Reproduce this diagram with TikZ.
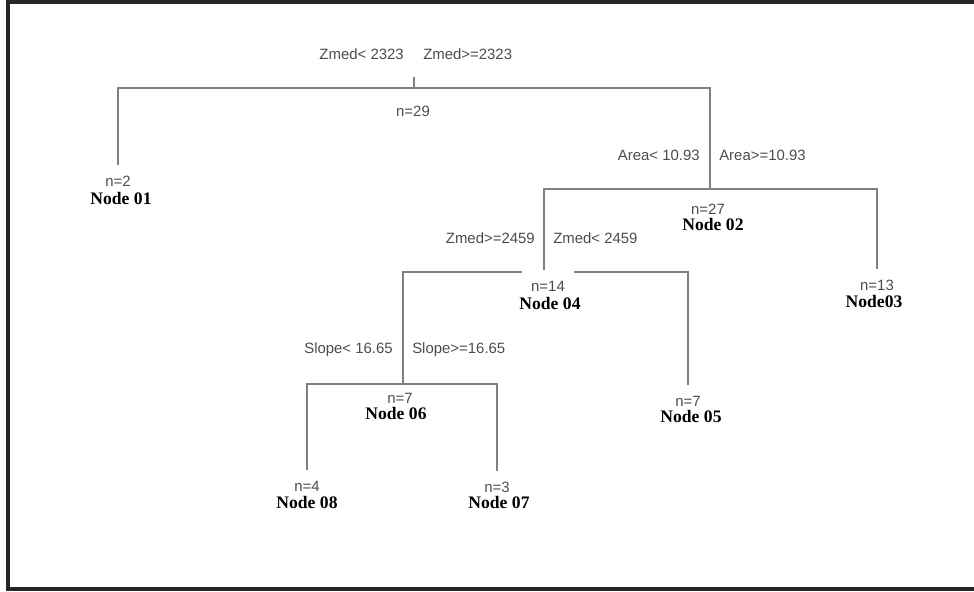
\documentclass[tikz,border=0pt]{standalone}
\usepackage{fontspec}
\setmainfont{Liberation Serif}
\setsansfont{Liberation Sans}
\usetikzlibrary{backgrounds}
\tikzset{
	splitlab/.style={font=\sffamily\fontsize{11.2}{13}\selectfont, text=black!70, inner sep=0pt},
	count/.style={font=\sffamily\fontsize{11.2}{13}\selectfont, text=black!70, inner sep=1pt},
	nodelab/.style={font=\bfseries\fontsize{13.2}{15}\selectfont, inner sep=0pt},
	branch/.style={draw=black!50, line width=1pt},
}
\begin{document}
\begin{tikzpicture}[x=0.75pt,y=-0.75pt]
		\useasboundingbox (0,0) rectangle (974,592);
		% Frame
			\draw [black!85, line width=2.5pt] (974,2) -- (8,2) -- (8,589) -- (974,589);
			
		% Splits
			\coordinate (top) at (414,77);
			\coordinate (s0) at (414,88);
			\coordinate (s2) at (710,189);
			\coordinate (s4) at (544,272);
			\coordinate (s6) at (403,384);
			
			\node [splitlab, anchor=east] (z0l) at (404,54) {Zmed< 2323};
			\node [splitlab, anchor=west] (z0r) at (423,54) {Zmed>=2323};
			\node [splitlab, anchor=east] (a2l) at (700,155) {Area< 10.93};
			\node [splitlab, anchor=west] (a2r) at (719,155) {Area>=10.93};
			\node [splitlab, anchor=east] (z4l) at (535,238) {Zmed>=2459};
			\node [splitlab, anchor=west] (z4r) at (553,238) {Zmed< 2459};
			\node [splitlab, anchor=east] (p6l) at (393,350) {Slope< 16.65};
			\node [splitlab, anchor=west] (p6r) at (412,350) {Slope>=16.65};
			
		% Counts and node names
			\node [count] (c00) at (413,111) {n=29};
			\node [count] (c01) at (118,181) {n=2};
			\node [count] (c02) at (708,209) {n=27};
			\node [count] (c03) at (877,285) {n=13};
			\node [count] (c04) at (548,286) {n=14};
			\node [count] (c05) at (688,401) {n=7};
			\node [count] (c06) at (400,398) {n=7};
			\node [count] (c07) at (497,487) {n=3};
			\node [count] (c08) at (307,486) {n=4};
			
			\node [nodelab] (lab01) at (121,198) {Node 01};
			\node [nodelab] (lab02) at (713,224) {Node 02};
			\node [nodelab] (lab03) at (874,301) {Node03};
			\node [nodelab] (lab04) at (550,303) {Node 04};
			\node [nodelab] (lab05) at (691,416) {Node 05};
			\node [nodelab] (lab06) at (396,413) {Node 06};
			\node [nodelab] (lab07) at (499,502) {Node 07};
			\node [nodelab] (lab08) at (307,502) {Node 08};
			
		% Branches
		\begin{pgfonlayer}{background}
			\draw [branch] (top) -- (s0);
			\draw [branch] ([yshift=6.6pt]c01.north) |- (s0) -| (s2);
			\draw [branch] (s4) |- (s2) -| ([yshift=6.6pt]c03.north);
			\draw [branch] (s6) |- (s4) -| ([yshift=6.6pt]c05.north);
			\draw [branch] ([yshift=6.6pt]c08.north) |- (s6) -| ([yshift=6.6pt]c07.north);
			% gap round n=14
			\fill [white] ([shift={(-6pt,6.6pt)}]c04.north west) rectangle ([xshift=6pt]c04.south east);
		\end{pgfonlayer}
			
		\end{tikzpicture}
\end{document}
